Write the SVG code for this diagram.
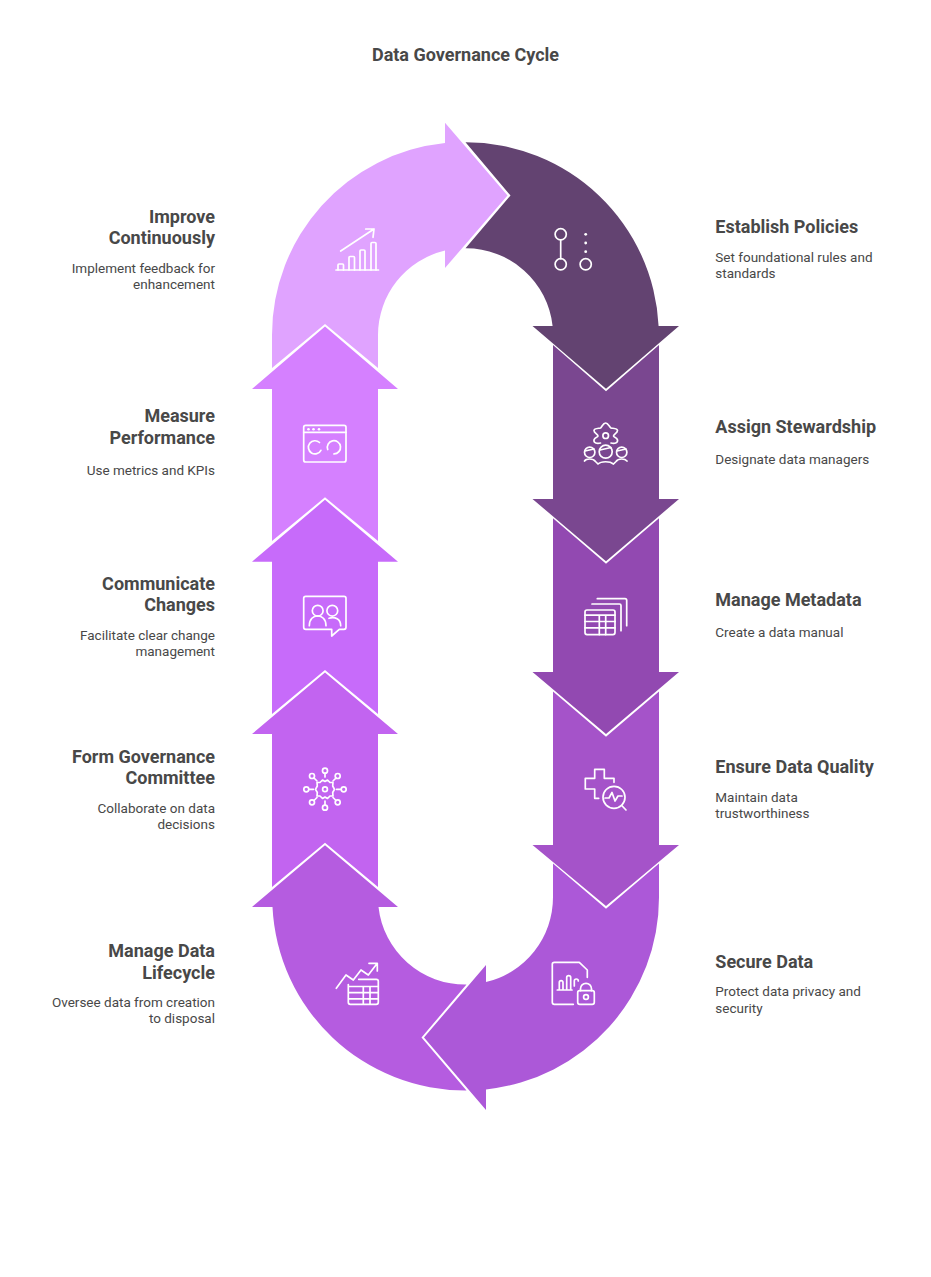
<svg xmlns="http://www.w3.org/2000/svg" width="931" height="1277" viewBox="0 0 931 1277">
<style>
text{font-family:Roboto,"Liberation Sans",sans-serif;fill:#484848}
.t{font-size:18px;font-weight:700}
.h{font-size:18px;font-weight:700}
.d{font-size:13.5px;font-weight:400}
.r{text-anchor:end}
.i{fill:none;stroke:#fff;stroke-width:1.7;stroke-linecap:round;stroke-linejoin:round}
.w{fill:#fff;stroke:none}
</style>
<rect width="931" height="1277" fill="#fff"/>
<text class="t" x="465.5" y="61" text-anchor="middle">Data Governance Cycle</text>

<g id="connectors"></g>

<g id="establish-policies">
<path fill="#634371" d="M465.5 142.3A193 193 0 0 1 658.6 326H679L606 388.7L532.5 326H552.6A87 87 0 0 0 465.5 248.3L510.5 195.5Z"/>
<g class="i"><circle cx="560.7" cy="234.3" r="5.6"/><circle cx="560.7" cy="264.3" r="5.6"/><path d="M560.7 240V258.7"/><circle cx="585.7" cy="264.3" r="5.6"/></g>
<circle class="w" cx="585.7" cy="234.3" r="1.4"/><circle class="w" cx="585.7" cy="243" r="1.4"/><circle class="w" cx="585.7" cy="251.7" r="1.4"/>
<text class="h" x="715.3" y="233">Establish Policies</text>
<text class="d" x="715.3" y="261.6">Set foundational rules and</text>
<text class="d" x="715.3" y="277.6">standards</text>
</g>

<g id="assign-stewardship">
<path fill="#7A4790" d="M553 345L606 391.2L659 345V499H679L606 561.2L532.5 499H553Z"/>
<g class="i"><circle cx="605.7" cy="435.7" r="2.8"/>
<path d="M600.5 443C597 444 593.5 443 594 440C594.5 437 598 437.5 598 436C598 434.5 594 433 594 430.5C594 428 599 428.5 600.5 428C602 427 603 423 605.7 423C608 423 609.5 427 611 428C612.5 428.5 617.5 428 617.5 430.5C617.5 433 613.5 434.5 613.5 436C613.5 437.5 617 437 617.5 440C618 443 614.5 444 611 443"/>
<circle cx="589.7" cy="452.3" r="5.2"/><circle cx="605.7" cy="451.7" r="6.5"/><circle cx="621.7" cy="452.3" r="5.2"/>
<path d="M585 451L594 449M600 450L611 447.5M617 451L626 449"/>
<path d="M584.5 461C586 458.5 593 458 595.5 461.5L598 464C601 461 610 461 613.5 464L616 461.5C618.5 458 625 458.5 627 461"/></g>
<text class="h" x="715.3" y="433">Assign Stewardship</text>
<text class="d" x="715.3" y="463.6">Designate data managers</text>
</g>

<g id="manage-metadata">
<path fill="#9249B1" d="M553 518.3L606 563.7L659 518.3V672H679L606 734L532.5 672H553Z"/>
<g class="i"><rect x="585" y="610" width="30" height="24.6" rx="2"/>
<path d="M585 615.2H615M585 621.5H615M585 627.8H615M599.3 615.2V634.6M605.7 615.2V634.6"/>
<path d="M592 604H619.5Q621 604 621 605.5V630.7M597.3 598.7H625Q626.7 598.7 626.7 600.4V625.7"/></g>
<text class="h" x="715.3" y="606">Manage Metadata</text>
<text class="d" x="715.3" y="636.6">Create a data manual</text>
</g>

<g id="ensure-data-quality">
<path fill="#A553C9" d="M553 691.5L606 736.7L659 691.5V845H679L606 906L532.5 845H553Z"/>
<g class="i"><path d="M598.7 798.3H594.7V789H585.3V778.3H594.7V769.3H604.3V778.3H614V782.3"/>
<circle cx="614" cy="797.3" r="11"/><path d="M621.7 805.5L626 810M605 798H609L612 792.5L615 801L618 796H622"/></g>
<text class="h" x="715.3" y="773">Ensure Data Quality</text>
<text class="d" x="715.3" y="801.6">Maintain data</text>
<text class="d" x="715.3" y="817.6">trustworthiness</text>
</g>

<g id="secure-data">
<path fill="#AC58D8" d="M553 863.5L606 908.7L659 863.5V897A193 193 0 0 1 486 1089.4V1110L424 1037.5L486 965V982A87 87 0 0 0 553 897Z"/>
<g class="i"><path d="M573.3 1004.3H554.3Q552.3 1004.3 552.3 1002.3V964.3Q552.3 962.3 554.3 962.3H579.3L587.3 970V977.3"/>
<path d="M557.3 990H572M559.3 990V982.5Q559.3 980.7 561.1 980.7T563 982.5V990M566.7 990V977.5Q566.7 975.7 568.7 975.7T570.7 977.5V990M574.3 986V981Q574.3 979 576.3 979T578.3 981"/>
<rect x="577.7" y="990.7" width="16.6" height="13.6" rx="2"/><path d="M580.5 990.7V988.8A5.5 5.5 0 0 1 591.5 988.8V990.7"/><circle cx="586" cy="997" r="2.4"/></g>
<text class="h" x="715.3" y="968">Secure Data</text>
<text class="d" x="715.3" y="995.6">Protect data privacy and</text>
<text class="d" x="715.3" y="1012.6">security</text>
</g>

<g id="manage-data-lifecycle">
<path fill="#B55CE0" d="M272.5 907A193 193 0 0 0 466.5 1090.5L421.5 1037.5L466.5 984.5A87 87 0 0 1 378.5 907H398L325 845.2L252 907Z"/>
<g class="i"><path d="M336.3 988.3L346 975L353.3 980L361 970L368.3 975L377.3 963.3M369 963.3H377.3V971"/>
<path d="M358.7 979.3H376.3Q378.3 979.3 378.3 981.3V1002.3Q378.3 1004.3 376.3 1004.3H350.3Q348.3 1004.3 348.3 1002.3V984.5M348.3 986.5H378.3M348.3 992.7H378.3M348.3 998.8H378.3M363.3 986.5V1004.3M370 986.5V1004.3"/></g>
<text class="h r" x="215" y="957">Manage Data</text>
<text class="h r" x="215" y="979">Lifecycle</text>
<text class="d r" x="215" y="1006.6">Oversee data from creation</text>
<text class="d r" x="215" y="1022.6">to disposal</text>
</g>

<g id="form-governance-committee">
<path fill="#C264F0" d="M272 887L325 842.7L378 887V734H398L325 672.5L252 734H272Z"/>
<g class="i"><circle cx="325" cy="789.3" r="2.4"/>
<path d="M322.5 780L325 781.5L327.5 780L330 782.5L333 782.5L332.7 786L334.5 789.3L332.7 792.5L333 796L330 796L327.5 798.5L325 797L322.5 798.5L320 796L317 796L317.3 792.5L315.5 789.3L317.3 786L317 782.5L320 782.5Z"/>
<circle cx="325" cy="770.7" r="2.5"/><circle cx="325" cy="807.7" r="2.5"/><circle cx="306.3" cy="789.3" r="2.5"/><circle cx="343.7" cy="789.3" r="2.5"/><circle cx="312" cy="776" r="2.5"/><circle cx="337.7" cy="776" r="2.5"/><circle cx="312" cy="802.3" r="2.5"/><circle cx="337.7" cy="802.3" r="2.5"/>
<path d="M325 773.5V777M325 801V805M309 789.3H313.5M336.5 789.3H341M314 778L317 781M336 778L333 781M314 800.5L317 797.5M336 800.5L333 797.5"/></g>
<text class="h r" x="215" y="763">Form Governance</text>
<text class="h r" x="215" y="784">Committee</text>
<text class="d r" x="215" y="812.6">Collaborate on data</text>
<text class="d r" x="215" y="828.6">decisions</text>
</g>

<g id="communicate-changes">
<path fill="#C76BFA" d="M272 714L325 670L378 714V561.7H398L325 499.8L252 561.7H272Z"/>
<g class="i"><path d="M331.7 629.3H305.7Q303.7 629.3 303.7 627.3V598.3Q303.7 596.3 305.7 596.3H344Q346 596.3 346 598.3V627.3Q346 629.3 344 629.3H339.3L331.7 636Z"/>
<circle cx="317.7" cy="610.7" r="5.4"/><circle cx="332.3" cy="610.7" r="5.4"/>
<path d="M309.3 625.7C309.3 612.5 326 612.5 326 625.7M329 618.3C335 616.5 340.7 619 340.7 625.7"/></g>
<text class="h r" x="215" y="590">Communicate</text>
<text class="h r" x="215" y="611">Changes</text>
<text class="d r" x="215" y="639.6">Facilitate clear change</text>
<text class="d r" x="215" y="655.6">management</text>
</g>

<g id="measure-performance">
<path fill="#D580FF" d="M272 541L325 497.3L378 541V389H398L325 326.5L252 389H272Z"/>
<g class="i"><rect x="303.7" y="425.3" width="42.3" height="36.7" rx="2"/><path d="M303.7 432.3H346"/>
<path d="M319.5 442.5A6.6 6.6 0 1 0 320.9 450.3"/><path d="M327.7 449.5A6.6 6.6 0 1 1 334 453.9"/></g>
<circle class="w" cx="308.5" cy="429.3" r="1.3"/><circle class="w" cx="313.5" cy="429.3" r="1.3"/><circle class="w" cx="319" cy="429.3" r="1.3"/>
<text class="h r" x="215" y="422">Measure</text>
<text class="h r" x="215" y="444">Performance</text>
<text class="d r" x="215" y="474.6">Use metrics and KPIs</text>
</g>

<g id="improve-continuously">
<path fill="#E0A3FF" d="M272 368L325 324L378 368V335A87 87 0 0 1 445 250.5V268L507.5 195.5L445 122.7V143A193 193 0 0 0 272 335Z"/>
<g class="i"><path d="M336 270H378.5M340.7 251L374 229M365.7 229H374L373 237.3"/>
<path d="M338 270V265Q338 264 339 264H342.5Q343.5 264 343.5 265V270M349 270V257.5Q349 256.5 350 256.5H353.5Q354.5 256.5 354.5 257.5V270M360 270V251Q360 250 361 250H364Q365 250 365 251V270M371 270V243.5Q371 242.5 372 242.5H375Q376 242.5 376 243.5V270"/></g>
<text class="h r" x="215" y="223">Improve</text>
<text class="h r" x="215" y="244">Continuously</text>
<text class="d r" x="215" y="272.6">Implement feedback for</text>
<text class="d r" x="215" y="288.6">enhancement</text>
</g>
</svg>
